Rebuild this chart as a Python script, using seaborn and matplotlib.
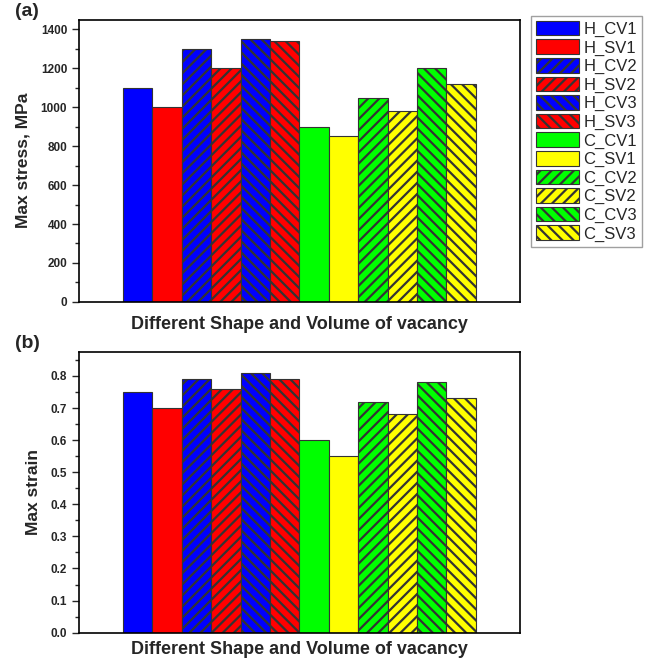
import matplotlib
matplotlib.use("Agg")
import matplotlib.pyplot as plt
import seaborn as sns
import pandas as pd
from matplotlib.ticker import MultipleLocator

labels = ['H_CV1', 'H_SV1', 'H_CV2', 'H_SV2', 'H_CV3', 'H_SV3',
          'C_CV1', 'C_SV1', 'C_CV2', 'C_SV2', 'C_CV3', 'C_SV3']
max_stress = [1100, 1000, 1300, 1200, 1350, 1340, 900, 850, 1050, 980, 1200, 1120]
max_strain = [0.75, 0.70, 0.79, 0.76, 0.81, 0.79, 0.60, 0.55, 0.72, 0.68, 0.78, 0.73]
colors = ['#0000FF', '#FF0000', '#0000FF', '#FF0000', '#0000FF', '#FF0000',
          '#00FF00', '#FFFF00', '#00FF00', '#FFFF00', '#00FF00', '#FFFF00']
hatches = ['', '', '///', '///', '\\\\\\', '\\\\\\',
           '', '', '///', '///', '\\\\\\', '\\\\\\']

df = pd.DataFrame({'group': ['all'] * len(labels), 'label': labels,
                   'stress': max_stress, 'strain': max_strain})

sns.set_style('ticks')
plt.rcParams['font.family'] = ['Liberation Sans', 'DejaVu Sans']
plt.rcParams['hatch.linewidth'] = 1.6
plt.rcParams['hatch.color'] = 'black'

fig = plt.figure(figsize=(6.53, 6.59), dpi=100)
ax1 = fig.add_axes([0.121, 0.542, 0.675, 0.428])
ax2 = fig.add_axes([0.121, 0.040, 0.675, 0.426])

panels = [(ax1, 'stress', 'Max stress, MPa', 1450, 200, 100, '(a)', 10),
          (ax2, 'strain', 'Max strain', 0.875, 0.1, 0.05, '(b)', 6)]

for ax, col, ylab, ymax, major, minor, tag, xpad in panels:
    sns.barplot(data=df, x='group', y=col, hue='label', hue_order=labels,
                palette=colors, saturation=1, dodge=True, width=0.8,
                edgecolor='#333333', linewidth=0.8, legend=False, ax=ax)
    for cont, h in zip(ax.containers, hatches):
        for bar in cont:
            bar.set_hatch(h)
    ax.set_xlim(-0.5, 0.5)
    ax.set_ylim(0, ymax)
    ax.yaxis.set_major_locator(MultipleLocator(major))
    ax.yaxis.set_minor_locator(MultipleLocator(minor))
    ax.set_xticks([])
    ax.set_xlabel('Different Shape and Volume of vacancy', fontsize=13,
                  fontweight='bold', labelpad=xpad)
    ax.set_ylabel(ylab, fontsize=12.5, fontweight='bold', labelpad=7)
    ax.tick_params(axis='y', which='major', length=5, width=1, labelsize=8.5)
    ax.tick_params(axis='y', which='minor', length=3, width=1)
    for lab in ax.get_yticklabels():
        lab.set_fontweight('bold')
    for sp in ax.spines.values():
        sp.set_visible(True)
        sp.set_linewidth(1.2)
        sp.set_color('black')
    ax.text(-0.145, 1.03, tag, transform=ax.transAxes, fontsize=14,
            fontweight='bold', ha='left', va='center')

handles = [cont[0] for cont in ax1.containers]
fig.legend(handles=handles, labels=labels, loc='upper left',
           bbox_to_anchor=(0.813, 0.976), fontsize=12, frameon=True,
           fancybox=False, edgecolor='#888888', handlelength=2.6,
           handleheight=0.96, labelspacing=0.15, handletextpad=0.25,
           borderpad=0.3, borderaxespad=0)

plt.savefig('out.png', dpi=100)
